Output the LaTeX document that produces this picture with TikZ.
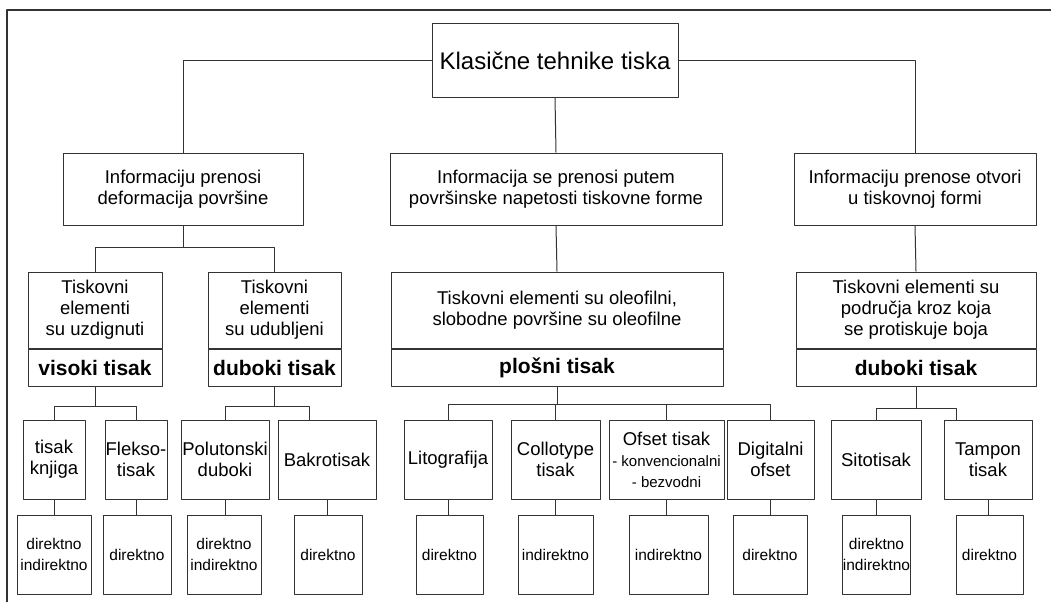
\documentclass[tikz,border=0pt]{standalone}
\usepackage{fontspec}
\setmainfont{Liberation Sans}
\definecolor{linegray}{HTML}{333333}
\tikzset{
	box/.style={draw=linegray, line width=1pt, inner sep=0pt, align=center, font=\fontsize{18.5}{21}\selectfont},
	sbox/.style={box, font=\fontsize{15.5}{21}\selectfont},
	bbox/.style={box, font=\bfseries\fontsize{21}{24}\selectfont},
	wire/.style={draw=linegray, line width=1pt},
}
\begin{document}
\begin{tikzpicture}[x=1pt, y=-1pt, line join=round]
	\useasboundingbox (0,0) rectangle (1051,602);
	\draw[line width=2pt, draw=linegray] (7,602) -- (7,10) -- (1051,10);
	% vrh
	\node[box, minimum width=246pt, minimum height=73pt, font=\fontsize{24}{28}\selectfont] (root) at (555,60.5) {Klasične tehnike tiska};
	% prijenos informacije
	\node[box, minimum width=240pt, minimum height=72pt] (infA) at (183,189) {Informaciju prenosi\\deformacija površine};
	\node[box, minimum width=332pt, minimum height=72pt] (infB) at (556,189) {Informacija se prenosi putem\\površinske napetosti tiskovne forme};
	\node[box, minimum width=242pt, minimum height=72pt] (infC) at (915,189) {Informaciju prenose otvori\\u tiskovnoj formi};
	% tiskovni elementi + vrsta tiska
	\foreach \n/\x/\w/\t/\b in {
		uzdig/95/134/{Tiskovni\\elementi\\su uzdignuti}/visoki tisak,
		udub/274.5/133/{Tiskovni\\elementi\\su udubljeni}/duboki tisak,
		plosni/557/332/{Tiskovni elementi su oleofilni,\\slobodne površine su oleofilne}/plošni tisak,
		protis/916/240/{Tiskovni elementi su\\područja kroz koja\\se protiskuje boja}/duboki tisak}{
		\node[box, minimum width=\w pt, minimum height=76pt] (\n) at (\x,310) {\t};
		\node[bbox, minimum width=\w pt, minimum height=37pt, anchor=north] (t\n) at (\n.south) {\b};
	}
	% tehnike
	\foreach \n/\x/\w/\t in {
		knjiga/54/62/{tisak\\knjiga},
		flekso/136/62/{Flekso-\\tisak},
		polu/225/88/{Polutonski\\duboki},
		bakro/327/98/Bakrotisak,
		lito/448/88/Litografija,
		collo/555.5/89/{Collotype\\tisak},
		ofset/666.5/115/{Ofset tisak\\{\fontsize{15}{21}\selectfont - konvencionalni}\\{\fontsize{15}{21}\selectfont - bezvodni}},
		digi/770.5/87/{Digitalni\\ofset},
		sitot/876/90/Sitotisak,
		tampon/988/88/{Tampon\\tisak}}
		\node[box, minimum width=\w pt, minimum height=79pt] (\n) at (\x,459.5) {\t};
	% nacin tiska
	\foreach \n/\x/\w/\t in {
		knjiga/54/74/{direktno\\indirektno},
		flekso/137/68/direktno,
		polu/224/74/{direktno\\indirektno},
		bakro/328/68/direktno,
		lito/449.5/67/direktno,
		collo/555.5/75/indirektno,
		ofset/668.5/79/indirektno,
		digi/770/74/direktno,
		sitot/876.5/67/{direktno\\indirektno},
		tampon/989.5/67/direktno}{
		\node[sbox, minimum width=\w pt, minimum height=79pt] (d\n) at (\x,554.5) {\t};
		\draw[wire] (\n.south) -- (\n.south |- d\n.north);
	}
	% veze
	\draw[wire] (root.west) -| (infA.north);
	\draw[wire] (root.east) -| (infC.north);
	\draw[wire] (root.south) -- (infB.north);
	\draw[wire] (infB.south) -- (plosni.north);
	\draw[wire] (infC.south) -- (protis.north);
	\foreach \c in {uzdig,udub} \draw[wire] (infA.south) -- ++(0,22) -| (\c.north);
	\foreach \c in {knjiga,flekso} \draw[wire] (tuzdig.south) -- ++(0,20) -| (\c.north);
	\draw[wire] (tudub.south) -- ++(0,20) -| (polu.north);
	\draw[wire] (tudub.south) -- ++(0,20) -| ([xshift=-18pt]bakro.north);
	\foreach \c in {lito,collo,ofset,digi} \draw[wire] (tplosni.south) -- ++(0,18) -| (\c.north);
	\draw[wire] (tprotis.south) -- ++(0,22) -| (sitot.north);
	\draw[wire] (tprotis.south) -- ++(0,22) -| ([xshift=-32pt]tampon.north);
\end{tikzpicture}
\end{document}
